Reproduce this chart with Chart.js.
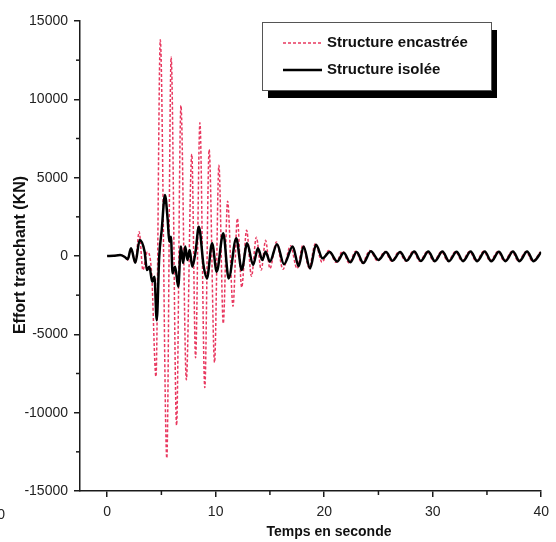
<!DOCTYPE html>
<html>
<head>
<meta charset="utf-8">
<script src="https://cdn.jsdelivr.net/npm/chart.js@4.4.1/dist/chart.umd.min.js"></script>
<style>
  html, body { margin: 0; padding: 0; background: #fff; }
  canvas { display: block; }
</style>
</head>
<body>
<canvas id="effort-chart" width="556" height="542"></canvas>
<script>
// Series (time in s, force in KN)
const encastreeTime = [0, 0.6, 1.2, 1.6, 1.9, 2.2, 2.6, 2.95, 3.3, 3.7, 4.1, 4.5, 4.9, 5.5, 5.9, 6.4, 6.8, 7.3, 7.8, 8.15,
    8.55, 9.0, 9.4, 9.9, 10.3, 10.7, 11.1, 11.6, 12.0, 12.4, 12.85, 13.3, 13.75, 14.2, 14.6, 15.0, 15.6, 16.2, 16.9, 17.5,
    18.05, 18.6, 19.2, 19.8, 20.4, 21.1, 21.7, 22.3, 22.9, 23.5, 24.2, 24.9, 25.6, 26.2, 26.9, 27.5, 28.2, 28.8, 29.5, 30.1,
    30.8, 31.4, 32.1, 32.7, 33.4, 34.0, 34.7, 35.3, 36.0, 36.6, 37.3, 37.9, 38.6, 39.2, 39.9];
const encastreeForce = [0, 20, 80, -60, -250, 450, -450, 1550, -900, 250, -1100, -7700, 13800, -12900, 12700, -10800, 9600, -7900, 6500, -6500,
    8500, -8400, 6800, -6800, 5800, -4300, 3500, -3200, 2400, -2000, 1650, -1300, 1200, -900, 1000, -800, 900, -850, 650, -800,
    700, -750, 800, -400, 350, -400, 300, -450, 300, -450, 350, -300, 280, -330, 270, -320, 300, -330, 290, -340,
    290, -340, 280, -330, 290, -340, 300, -340, 290, -330, 290, -340, 280, -340, 250];

const isoleeTime = [0, 0.6, 1.2, 1.6, 1.9, 2.2, 2.6, 3.0, 3.45, 3.67, 3.9, 4.15, 4.36, 4.57, 4.8, 5.03, 5.33, 5.58, 5.73, 5.88,
    6.03, 6.27, 6.55, 6.8, 7.0, 7.2, 7.4, 7.6, 7.85, 8.15, 8.45, 8.9, 9.2, 9.67, 10.1, 10.7, 11.2, 11.9, 12.4, 12.9,
    13.45, 13.9, 14.3, 14.6, 15.0, 15.65, 16.3, 17.1, 17.65, 18.1, 18.7, 19.25, 19.85, 20.5, 21.2, 21.8, 22.4, 23.0, 23.6, 24.3,
    25.0, 25.7, 26.3, 27.0, 27.6, 28.3, 28.9, 29.6, 30.2, 30.9, 31.5, 32.2, 32.8, 33.5, 34.1, 34.8, 35.4, 36.1, 36.7, 37.4,
    38.0, 38.7, 39.3, 40];
const isoleeForce = [0, 20, 60, -50, -200, 500, -430, 1020, 280, -900, -680, -1640, -1320, -4100, -40, 1660, 3900, 2300, 910, 1230,
    -1100, -680, -1960, 600, -450, 600, -250, 380, -680, 280, 1870, -680, -1430, 810, -1000, 1450, -1430, 1130, -890, 810,
    -570, 490, -250, 270, -360, 750, -520, 600, -650, 600, -790, 720, -150, 250, -350, 200, -400, 250, -450, 300,
    -250, 250, -300, 250, -300, 280, -320, 280, -330, 280, -330, 270, -330, 280, -330, 280, -340, 270, -330, 280,
    -330, 280, -330, 250];

const xTickValues = [0, 10, 20, 30, 40];
const xMinorValues = [5, 15, 25, 35];
const yTickValues = [-15000, -10000, -5000, 0, 5000, 10000, 15000];
const yMinorValues = [-12500, -7500, -2500, 2500, 7500, 12500];

const FONT = "'Liberation Sans', Arial, sans-serif";
const AXIS_COLOR = '#1a1a1a';
const PINK = '#e8385f';

function toPoints(times, values) {
    return times.map((t, i) => ({ x: t, y: values[i] }));
}

// Minor ticks, axis titles, the boxed legend and the stray clipped label
const decorations = {
    id: 'decorations',
    afterDraw(chart) {
        const ctx = chart.ctx;
        const xs = chart.scales.x;
        const ys = chart.scales.y;
        const area = chart.chartArea;

        ctx.save();
        ctx.strokeStyle = AXIS_COLOR;
        ctx.lineWidth = 1.5;
        xMinorValues.forEach(v => {
            const px = xs.getPixelForValue(v);
            ctx.beginPath();
            ctx.moveTo(px, area.bottom);
            ctx.lineTo(px, area.bottom + 4);
            ctx.stroke();
        });
        yMinorValues.forEach(v => {
            const py = ys.getPixelForValue(v);
            ctx.beginPath();
            ctx.moveTo(area.left, py);
            ctx.lineTo(area.left - 4, py);
            ctx.stroke();
        });

        // axis titles
        ctx.fillStyle = '#111';
        ctx.textAlign = 'center';
        ctx.textBaseline = 'middle';
        ctx.font = 'bold 14px ' + FONT;
        ctx.fillText('Temps en seconde', 329, 532);
        ctx.save();
        ctx.translate(21, 255);
        ctx.rotate(-Math.PI / 2);
        ctx.font = 'bold 16px ' + FONT;
        ctx.fillText('Effort tranchant (KN)', 0, 0);
        ctx.restore();

        // clipped label at the left edge
        ctx.font = '14px ' + FONT;
        ctx.fillStyle = '#222';
        ctx.textAlign = 'right';
        ctx.fillText('0', 5, 515);

        // legend with drop shadow
        const lx = 262, ly = 22, lw = 229, lh = 68;
        ctx.fillStyle = '#000';
        ctx.fillRect(lx + 6, ly + 8, lw, lh);
        ctx.fillStyle = '#fff';
        ctx.fillRect(lx, ly, lw, lh);
        ctx.strokeStyle = '#555';
        ctx.lineWidth = 1;
        ctx.strokeRect(lx + 0.5, ly + 0.5, lw, lh);

        const rows = [21, 48];
        chart.data.datasets.forEach((ds, i) => {
            const y = ly + rows[i];
            ctx.beginPath();
            ctx.strokeStyle = ds.borderColor;
            ctx.lineWidth = ds.borderWidth;
            ctx.setLineDash(ds.borderDash || []);
            ctx.moveTo(283, y);
            ctx.lineTo(322, y);
            ctx.stroke();
            ctx.setLineDash([]);
            ctx.fillStyle = '#111';
            ctx.font = 'bold 15px ' + FONT;
            ctx.textAlign = 'left';
            ctx.textBaseline = 'middle';
            ctx.fillText(ds.label, 327, y);
        });
        ctx.restore();
    }
};

const ctx = document.getElementById('effort-chart').getContext('2d');
const chart = new Chart(ctx, {
    type: 'line',
    data: {
        datasets: [
            {
                label: 'Structure encastrée',
                data: toPoints(encastreeTime, encastreeForce),
                borderColor: PINK,
                borderWidth: 1.5,
                borderDash: [3, 2],
                pointRadius: 0,
                cubicInterpolationMode: 'monotone',
                order: 1
            },
            {
                label: 'Structure isolée',
                data: toPoints(isoleeTime, isoleeForce),
                borderColor: '#000',
                borderWidth: 2.5,
                pointRadius: 0,
                cubicInterpolationMode: 'monotone',
                order: 0
            }
        ]
    },
    options: {
        responsive: false,
        animation: false,
        layout: {
            padding: { top: 21, right: 9, left: 0, bottom: 0 }
        },
        plugins: {
            legend: { display: false },
            tooltip: { enabled: false }
        },
        scales: {
            x: {
                type: 'linear',
                min: -2.5,
                max: 40,
                afterBuildTicks: scale => {
                    scale.ticks = xTickValues.map(v => ({ value: v }));
                },
                afterFit: scale => { scale.height = 51; },
                border: { display: true, color: AXIS_COLOR, width: 1.5 },
                grid: {
                    drawOnChartArea: false,
                    drawTicks: true,
                    tickLength: 6,
                    color: AXIS_COLOR,
                    lineWidth: 1.5
                },
                ticks: {
                    padding: 7,
                    color: '#222',
                    maxRotation: 0,
                    callback: v => String(v),
                    font: { family: FONT, size: 14 }
                }
            },
            y: {
                type: 'linear',
                min: -15000,
                max: 15000,
                afterBuildTicks: scale => {
                    scale.ticks = yTickValues.map(v => ({ value: v }));
                },
                afterFit: scale => { scale.width = 80; },
                border: { display: true, color: AXIS_COLOR, width: 1.5 },
                grid: {
                    drawOnChartArea: false,
                    drawTicks: true,
                    tickLength: 6,
                    color: AXIS_COLOR,
                    lineWidth: 1.5
                },
                ticks: {
                    padding: 6,
                    color: '#222',
                    callback: v => String(v),
                    font: { family: FONT, size: 14 }
                }
            }
        }
    },
    plugins: [decorations]
});
</script>
</body>
</html>
